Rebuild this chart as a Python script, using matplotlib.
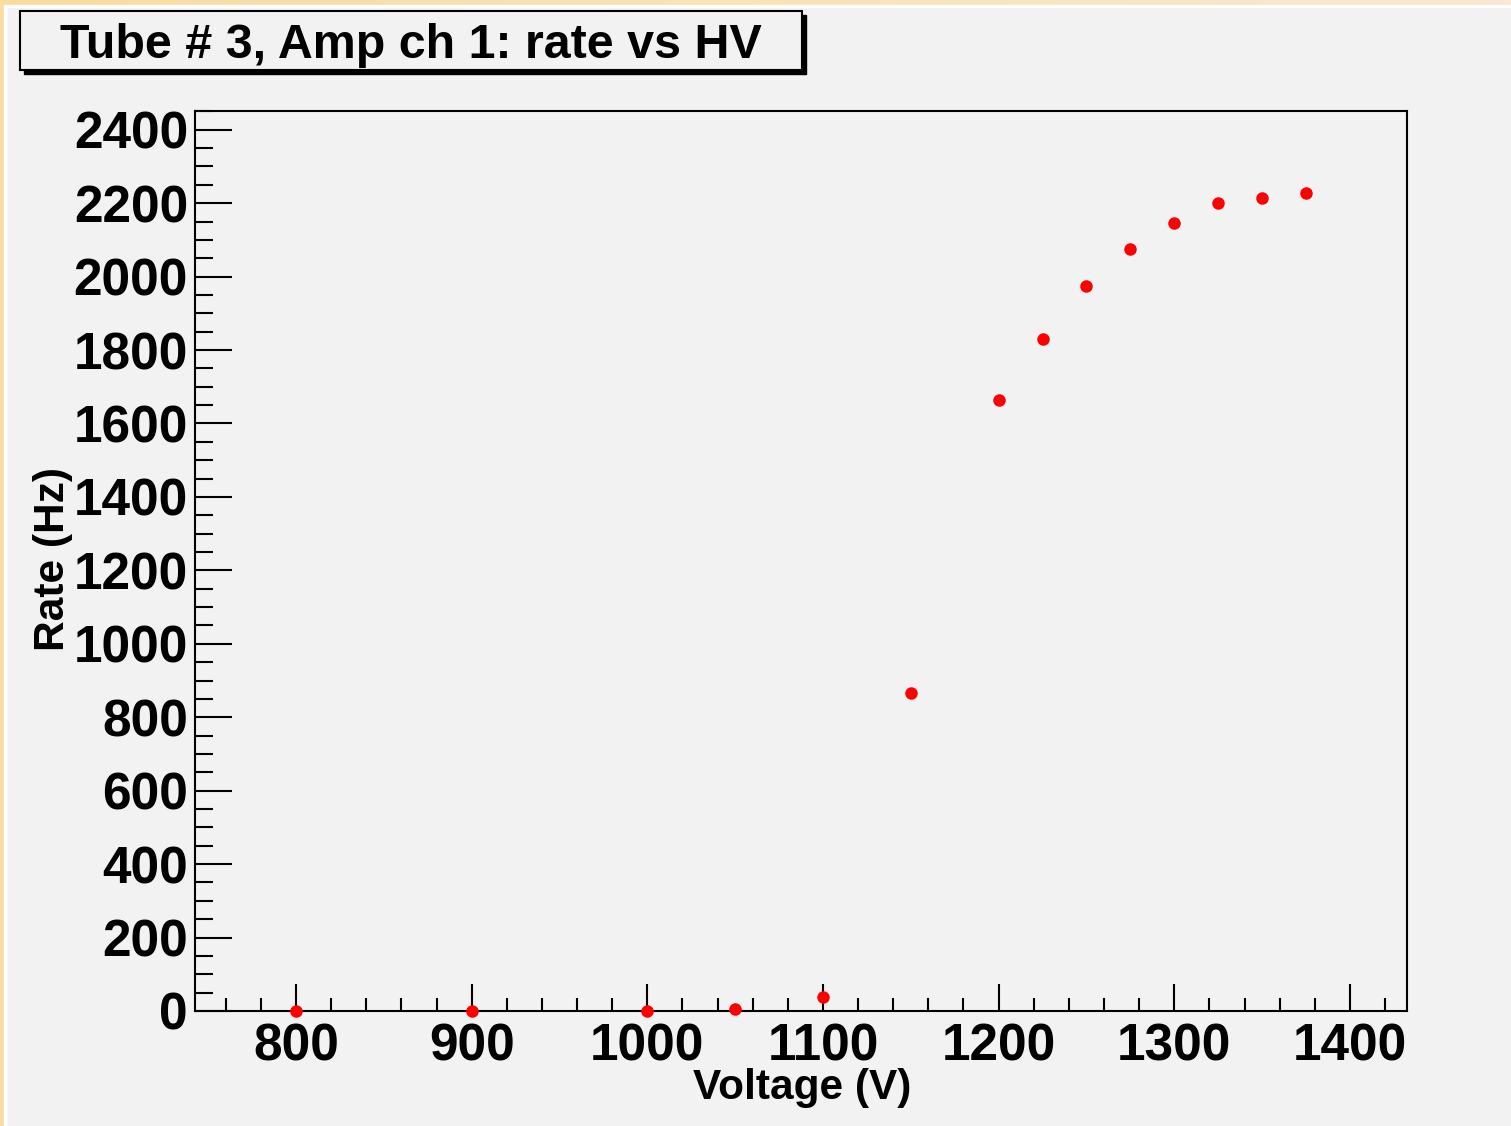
import numpy as np
import matplotlib
matplotlib.use("Agg")
import matplotlib.pyplot as plt
from matplotlib.patches import Rectangle
from matplotlib.ticker import MultipleLocator
from matplotlib.colors import LinearSegmentedColormap

voltage = [800, 900, 1000, 1050, 1100, 1150, 1200, 1225, 1250, 1275, 1300, 1325, 1350, 1375]
rate = [0, 0, 0, 5, 38, 867, 1663, 1830, 1974, 2075, 2146, 2201, 2214, 2228]
title = "Tube # 3, Amp ch 1: rate vs HV"
xlabel = "Voltage (V)"
ylabel = "Rate (Hz)"

W, H = 1511, 1126
bg = "#f2f2f2"
fig = plt.figure(figsize=(W / 100, H / 100), dpi=100, facecolor=bg)
font = ["Liberation Sans", "DejaVu Sans"]

def px(x, y):
    return x / W, 1 - y / H

# frame strips (left and top)
fig.patches.append(Rectangle((0, 0), 4 / W, 1, transform=fig.transFigure, color="#f9dca0", zorder=0))
fig.patches.append(Rectangle((4 / W, 0), 2 / W, 1 - 6 / H, transform=fig.transFigure, color="white", zorder=0))
gax = fig.add_axes([0, 1 - 5 / H, 1, 5 / H])
grad = np.linspace(0, 1, 256)[None, :]
cmap = LinearSegmentedColormap.from_list("g", ["#f9dca0", "#fce8d2"])
gax.imshow(grad, aspect="auto", cmap=cmap, extent=[0, 1, 0, 1])
gax.axis("off")
fig.patches.append(Rectangle((4 / W, 1 - 7 / H), 1, 2 / H, transform=fig.transFigure, color="white", zorder=0))

# main axes
l, r, t, b = 195, 1407, 111, 1011
ax = fig.add_axes([l / W, 1 - b / H, (r - l) / W, (b - t) / H])
ax.set_facecolor(bg)
ax.plot(voltage, rate, "o", color="#ff0000", markersize=9, markeredgewidth=0, clip_on=False, zorder=5)
ax.set_xlim(742.5, 1432.5)
ax.set_ylim(0, 2451)
ax.xaxis.set_major_locator(MultipleLocator(100))
ax.xaxis.set_minor_locator(MultipleLocator(20))
ax.yaxis.set_major_locator(MultipleLocator(200))
ax.yaxis.set_minor_locator(MultipleLocator(50))
for s in ax.spines.values():
    s.set_linewidth(1.5)
ax.tick_params(axis="x", which="major", direction="in", length=19.5, width=1.5, pad=8)
ax.tick_params(axis="x", which="minor", direction="in", length=9.5, width=1.5)
ax.tick_params(axis="y", which="major", direction="in", length=26.5, width=1.5, pad=5)
ax.tick_params(axis="y", which="minor", direction="in", length=13, width=1.5)
for lab in ax.get_xticklabels() + ax.get_yticklabels():
    lab.set_fontfamily(font)
    lab.set_fontweight("bold")
    lab.set_fontsize(37)

fig.text(*px(802, 1088), xlabel, ha="center", va="center", fontsize=30.5, fontweight="bold", family=font)
fig.text(*px(53, 559), ylabel, ha="center", va="center", rotation=90, fontsize=30.5, fontweight="bold", family=font)

# title box with shadow
bx0, by0, bx1, by1 = 20, 11, 802, 70
fig.patches.append(Rectangle(px(bx0 + 4, by1 + 4), (bx1 - bx0) / W, (by1 - by0) / H,
                             transform=fig.transFigure, facecolor="black", edgecolor="black", zorder=1))
fig.patches.append(Rectangle(px(bx0, by1), (bx1 - bx0) / W, (by1 - by0) / H,
                             transform=fig.transFigure, facecolor=bg, edgecolor="black", linewidth=1.5, zorder=2))
fig.text(*px(411, 46), title, ha="center", va="center", fontsize=34.8, fontweight="bold", family=font, zorder=3)

fig.savefig("out.png", dpi=100, facecolor=bg)
